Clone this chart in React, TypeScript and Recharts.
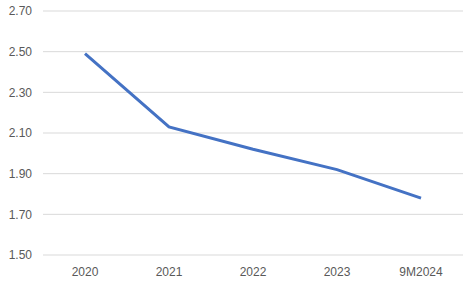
import React from "react";
import { LineChart, Line, XAxis, YAxis, CartesianGrid } from "recharts";

const categories = ["2020", "2021", "2022", "2023", "9M2024"];
const values = [2.49, 2.13, 2.02, 1.92, 1.78];
const yTicks = [1.5, 1.7, 1.9, 2.1, 2.3, 2.5, 2.7];

const data = categories.map((c, i) => ({ name: c, value: values[i] }));

export default function App() {
  return (
    <div style={{ position: "absolute", left: 0, top: 0, width: 473, height: 282, background: "#fff" }}>
      <LineChart width={473} height={282} data={data} margin={{ top: 11, right: 10, bottom: 0, left: 0 }}>
        <CartesianGrid vertical={false} stroke="#d9d9d9" strokeWidth={1} />
        <XAxis
          dataKey="name"
          axisLine={false}
          tickLine={false}
          height={27}
          padding={{ left: 42, right: 42 }}
          tick={{ fill: "#595959", fontSize: 12, fontFamily: "Liberation Sans, Arial, sans-serif" }}
          tickMargin={6}
        />
        <YAxis
          domain={[1.5, 2.7]}
          ticks={yTicks}
          axisLine={false}
          tickLine={false}
          width={43}
          tickFormatter={(v: number) => v.toFixed(2)}
          tick={{ fill: "#595959", fontSize: 12, fontFamily: "Liberation Sans, Arial, sans-serif" }}
          tickMargin={5}
        />
        <Line type="linear" dataKey="value" stroke="#4472c4" strokeWidth={3} dot={false} isAnimationActive={false} />
      </LineChart>
    </div>
  );
}
